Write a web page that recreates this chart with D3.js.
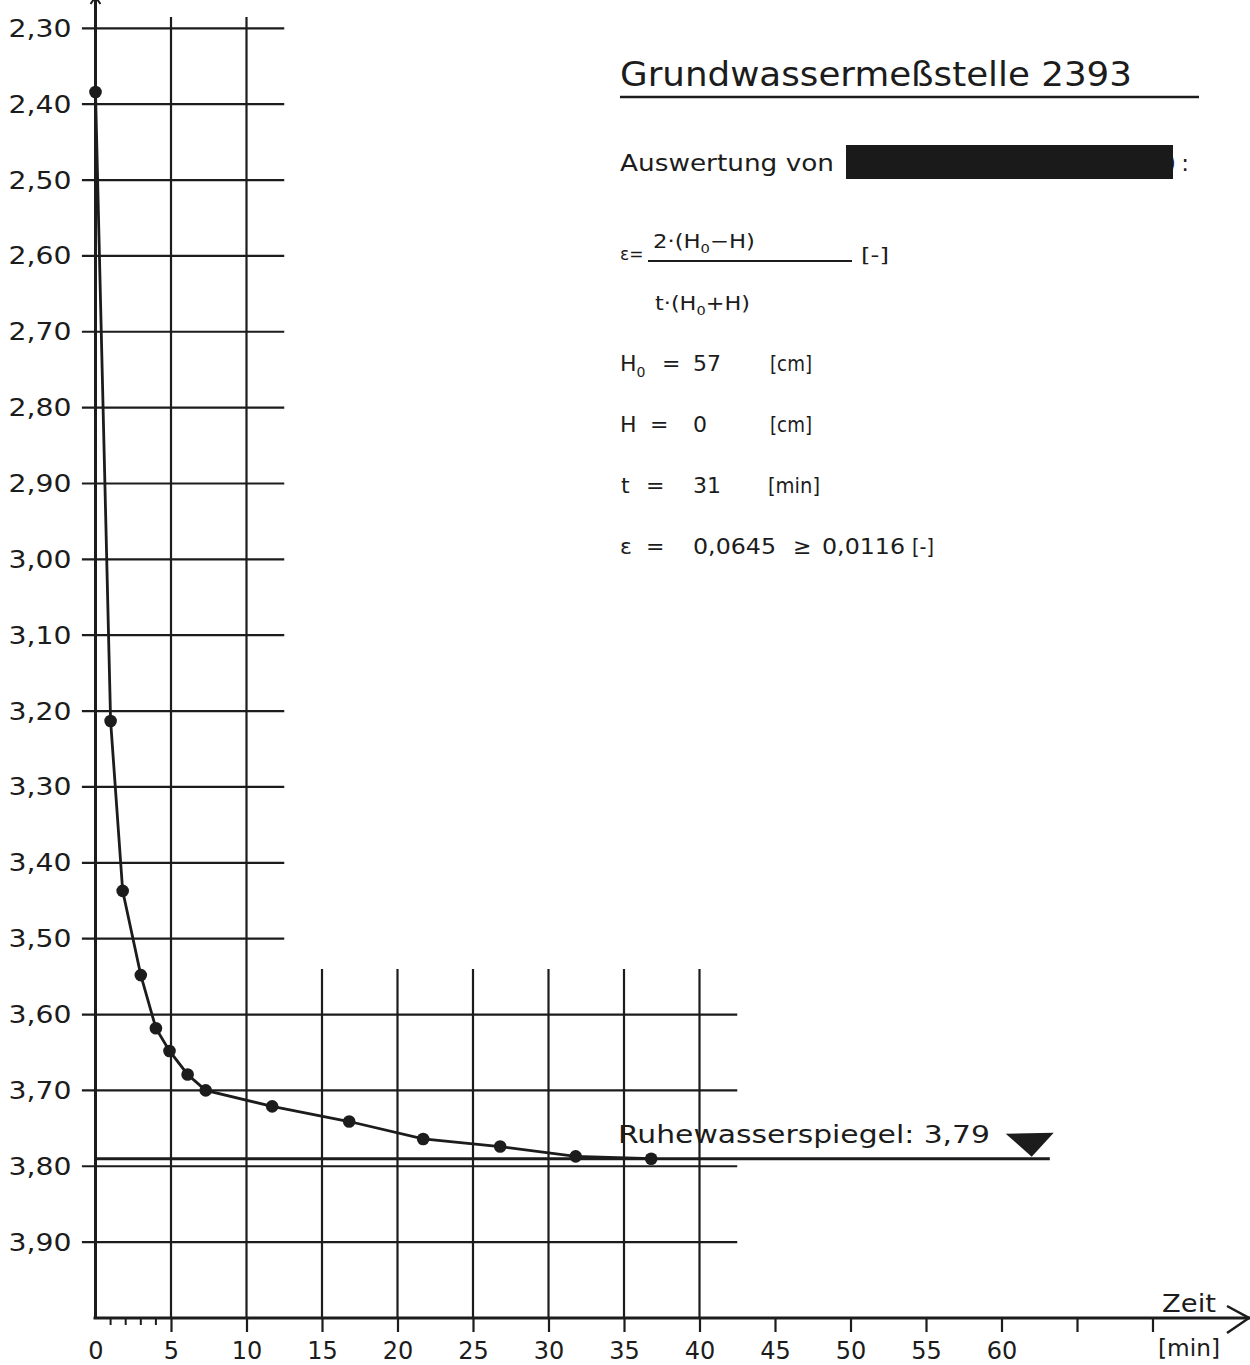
<!DOCTYPE html>
<html>
<head>
<meta charset="utf-8">
<script src="https://cdn.jsdelivr.net/npm/d3@7"></script>
<style>
  html, body { margin: 0; padding: 0; background: #ffffff; }
  svg { display: block; }
  text { font-family: "DejaVu Sans", "Liberation Sans", sans-serif; fill: #1c1c1c; }
</style>
</head>
<body>
<svg id="chart" width="1250" height="1365"></svg>
<script>
// Messwerte des Auffüllversuchs: Zeit [min] und Abstich [m]
const timeMin = [0, 1, 1.8, 3, 4, 4.9, 6.1, 7.3, 11.7, 16.8, 21.7, 26.8, 31.8, 36.8];
const depthM  = [2.384, 3.213, 3.437, 3.548, 3.618, 3.648, 3.679, 3.700, 3.721, 3.741, 3.764, 3.774, 3.787, 3.790];

// Achsenteilung
const depthTicks = [2.30, 2.40, 2.50, 2.60, 2.70, 2.80, 2.90, 3.00, 3.10, 3.20, 3.30, 3.40, 3.50, 3.60, 3.70, 3.80, 3.90];
const depthTickLabels = ["2,30", "2,40", "2,50", "2,60", "2,70", "2,80", "2,90", "3,00", "3,10", "3,20", "3,30", "3,40", "3,50", "3,60", "3,70", "3,80", "3,90"];
const timeTicks = [0, 5, 10, 15, 20, 25, 30, 35, 40, 45, 50, 55, 60, 65, 70];
const timeTickLabels = ["0", "5", "10", "15", "20", "25", "30", "35", "40", "45", "50", "55", "60", "", ""];
const minorTimeTicks = [1, 2, 3, 4];

// Rasterbereiche
const upperGridDepths = [2.30, 2.40, 2.50, 2.60, 2.70, 2.80, 2.90, 3.00, 3.10, 3.20, 3.30, 3.40, 3.50];
const lowerGridDepths = [3.60, 3.70, 3.80, 3.90];
const fullGridTimes = [5, 10];
const lowerGridTimes = [15, 20, 25, 30, 35, 40];

// Ruhewasserspiegel
const restLevel = 3.79;
const restLevelLabel = "Ruhewasserspiegel: 3,79";

const ink = "#1c1c1c";
const svg = d3.select("#chart");

const x = d3.scaleLinear().domain([0, 70]).range([95.5, 1152.5]);
const y = d3.scaleLinear().domain([2.30, 4.00]).range([28.3, 1318]);

const axisY = y(4.00);
const grid = svg.append("g").attr("stroke", ink).attr("stroke-width", 2.2).attr("fill", "none");

// waagerechte Rasterlinien
grid.selectAll(".hu").data(upperGridDepths).join("line")
  .attr("x1", x(-0.9)).attr("x2", x(12.5))
  .attr("y1", d => y(d)).attr("y2", d => y(d));
grid.selectAll(".hl").data(lowerGridDepths).join("line")
  .attr("x1", x(-0.9)).attr("x2", x(42.5))
  .attr("y1", d => y(d)).attr("y2", d => y(d));

// senkrechte Rasterlinien
grid.selectAll(".vf").data(fullGridTimes).join("line")
  .attr("x1", d => x(d)).attr("x2", d => x(d))
  .attr("y1", y(2.285)).attr("y2", axisY);
grid.selectAll(".vl").data(lowerGridTimes).join("line")
  .attr("x1", d => x(d)).attr("x2", d => x(d))
  .attr("y1", y(3.54)).attr("y2", axisY);

// Zeitachse mit Teilung
const xAxis = d3.axisBottom(x)
  .tickValues(timeTicks)
  .tickSize(14)
  .tickPadding(10)
  .tickFormat((d, i) => timeTickLabels[i]);
const gx = svg.append("g").attr("transform", `translate(0,${axisY})`).call(xAxis);
gx.select(".domain").remove();
gx.selectAll(".tick line").attr("stroke", ink).attr("stroke-width", 2.2)
  .attr("display", d => d === 0 ? "none" : null);
gx.selectAll(".tick text").attr("font-size", 24).attr("fill", ink);

gx.selectAll(".minor").data(minorTimeTicks).join("line")
  .attr("x1", d => x(d)).attr("x2", d => x(d))
  .attr("y1", 0).attr("y2", 7)
  .attr("stroke", ink).attr("stroke-width", 2);

// Tiefenachse mit Beschriftung
const yAxis = d3.axisLeft(y)
  .tickValues(depthTicks)
  .tickSize(0)
  .tickPadding(24)
  .tickFormat((d, i) => depthTickLabels[i]);
const gy = svg.append("g").attr("transform", `translate(${x(0)},0)`).call(yAxis);
gy.select(".domain").remove();
gy.selectAll(".tick text").attr("font-size", 25).attr("fill", ink)
  .attr("textLength", 63).attr("lengthAdjust", "spacingAndGlyphs");

// Achsenlinien
svg.append("line").attr("x1", x(0)).attr("x2", x(0)).attr("y1", -2).attr("y2", axisY)
  .attr("stroke", ink).attr("stroke-width", 3);
svg.append("line").attr("x1", x(0) - 2).attr("x2", 1250).attr("y1", axisY).attr("y2", axisY)
  .attr("stroke", ink).attr("stroke-width", 3.2);
svg.append("path")
  .attr("d", `M${x(0) - 5},4 L${x(0)},-3 L${x(0) + 5},4`)
  .attr("stroke", ink).attr("stroke-width", 2).attr("fill", "none");
svg.append("path")
  .attr("d", `M1227,${axisY - 12} L1249,${axisY} L1227,${axisY + 15}`)
  .attr("stroke", ink).attr("stroke-width", 2.5).attr("fill", "none");

svg.append("text").attr("x", 1162).attr("y", axisY - 6).attr("font-size", 24)
  .attr("textLength", 54).attr("lengthAdjust", "spacingAndGlyphs").text("Zeit");
svg.append("text").attr("x", 1158).attr("y", axisY + 38).attr("font-size", 23)
  .attr("textLength", 62).attr("lengthAdjust", "spacingAndGlyphs").text("[min]");

// Ruhewasserspiegel
svg.append("line")
  .attr("x1", x(0)).attr("x2", x(63.2))
  .attr("y1", y(restLevel)).attr("y2", y(restLevel))
  .attr("stroke", ink).attr("stroke-width", 3);
svg.append("path")
  .attr("d", () => {
    const cx = x(62), cy = y(restLevel);
    return `M${cx - 26},${cy - 25} L${cx + 22},${cy - 26} L${cx},${cy - 2} Z`;
  })
  .attr("fill", ink);
svg.append("text").attr("x", 618).attr("y", y(restLevel) - 16).attr("font-size", 24)
  .attr("textLength", 372).attr("lengthAdjust", "spacingAndGlyphs").text(restLevelLabel);

// Messkurve
const pts = timeMin.map((t, i) => [x(t), y(depthM[i])]);
svg.append("path")
  .attr("d", d3.line()(pts))
  .attr("fill", "none").attr("stroke", ink).attr("stroke-width", 2.8);
svg.selectAll(".pt").data(pts).join("circle")
  .attr("cx", d => d[0]).attr("cy", d => d[1]).attr("r", 6.3).attr("fill", ink);

// Textblock
const info = svg.append("g");
info.append("text").attr("x", 620).attr("y", 86).attr("font-size", 33)
  .attr("textLength", 512).attr("lengthAdjust", "spacingAndGlyphs").text("Grundwassermeßstelle 2393");
info.append("line").attr("x1", 620).attr("x2", 1199).attr("y1", 97).attr("y2", 97)
  .attr("stroke", ink).attr("stroke-width", 2.6);

info.append("text").attr("x", 620).attr("y", 171).attr("font-size", 23)
  .attr("textLength", 214).attr("lengthAdjust", "spacingAndGlyphs").text("Auswertung von");
info.append("text").attr("x", 1167).attr("y", 171).attr("font-size", 23)
  .attr("textLength", 22).attr("lengthAdjust", "spacing").text("):");
info.append("rect").attr("x", 846).attr("y", 145).attr("width", 327).attr("height", 34).attr("fill", "#1a1a1a");

// Formel
info.append("text").attr("x", 620).attr("y", 260).attr("font-size", 17).text("ε=");
const num = info.append("text").attr("x", 653).attr("y", 248).attr("font-size", 20)
  .attr("textLength", 102).attr("lengthAdjust", "spacingAndGlyphs");
num.append("tspan").text("2·(H");
num.append("tspan").attr("font-size", 13).attr("dy", 5).text("0");
num.append("tspan").attr("dy", -5).text("−H)");
info.append("line").attr("x1", 648).attr("x2", 852).attr("y1", 261).attr("y2", 261)
  .attr("stroke", ink).attr("stroke-width", 1.8);
info.append("text").attr("x", 861).attr("y", 262).attr("font-size", 20)
  .attr("textLength", 28).attr("lengthAdjust", "spacingAndGlyphs").text("[-]");
const den = info.append("text").attr("x", 655).attr("y", 310).attr("font-size", 20)
  .attr("textLength", 95).attr("lengthAdjust", "spacingAndGlyphs");
den.append("tspan").text("t·(H");
den.append("tspan").attr("font-size", 13).attr("dy", 5).text("0");
den.append("tspan").attr("dy", -5).text("+H)");

// Kennwerte
const rowSize = 22;
function row(baseline, parts) {
  parts.forEach(p => {
    const t = info.append("text").attr("x", p.x).attr("y", baseline).attr("font-size", rowSize);
    if (p.sub) {
      t.append("tspan").text(p.text);
      t.append("tspan").attr("font-size", 14).attr("dy", 6).text(p.sub);
    } else {
      t.text(p.text);
    }
    if (p.w) t.attr("textLength", p.w).attr("lengthAdjust", "spacingAndGlyphs");
  });
}
row(371, [{x: 620, text: "H", sub: "0"}, {x: 662, text: "="}, {x: 693, text: "57"}, {x: 770, text: "[cm]", w: 42}]);
row(432, [{x: 620, text: "H"}, {x: 650, text: "="}, {x: 693, text: "0"}, {x: 770, text: "[cm]", w: 42}]);
row(493, [{x: 621, text: "t"}, {x: 646, text: "="}, {x: 693, text: "31"}, {x: 768, text: "[min]", w: 52}]);
row(554, [{x: 620, text: "ε"}, {x: 646, text: "="}, {x: 693, text: "0,0645", w: 83},
          {x: 793, text: "≥"}, {x: 822, text: "0,0116", w: 83}, {x: 912, text: "[-]", w: 22}]);
</script>
</body>
</html>
